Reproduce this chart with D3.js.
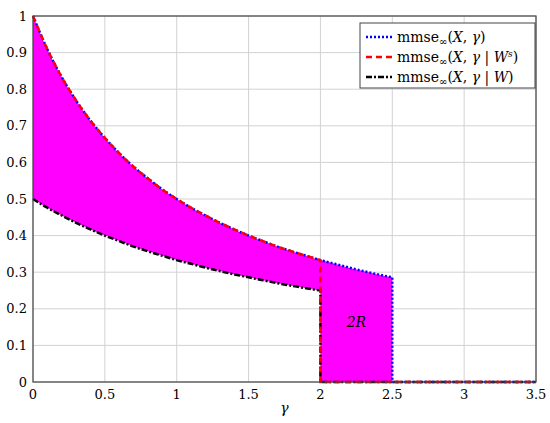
<!DOCTYPE html>
<html>
<head>
<meta charset="utf-8">
<script src="https://cdn.jsdelivr.net/npm/d3@7"></script>
<style>
  body { margin: 0; background: #fff; }
  svg { font-family: "DejaVu Serif", "Liberation Serif", serif; }
</style>
</head>
<body>
<svg id="chart"></svg>
<script>
// gamma sample grid, and values
const gammaGrid = [0, 0.1, 0.2, 0.3, 0.4, 0.5, 0.6, 0.7, 0.8, 0.9, 1.0, 1.1, 1.2,
    1.3, 1.4, 1.5, 1.6, 1.7, 1.8, 1.9, 2.0, 2.1, 2.2, 2.3, 2.4, 2.5];
const upperValues = [1.0, 0.909, 0.833, 0.769, 0.714, 0.667, 0.625, 0.588, 0.556, 0.526,
    0.5, 0.476, 0.455, 0.435, 0.417, 0.4, 0.385, 0.370, 0.357, 0.345,
    0.333, 0.323, 0.3125, 0.303, 0.294, 0.286];
const lowerValues = [0.5, 0.476, 0.455, 0.435, 0.417, 0.4, 0.385, 0.370, 0.357, 0.345,
    0.333, 0.323, 0.3125, 0.303, 0.294, 0.286, 0.278, 0.270, 0.263, 0.256, 0.25];

// where each series drops to zero
const dropBlue = 2.5;
const dropRed = 2.0;
const dropBlack = 2.0;
const gammaMax = 3.5;

const xTicks = [0, 0.5, 1, 1.5, 2, 2.5, 3, 3.5];
const yTicks = [0, 0.1, 0.2, 0.3, 0.4, 0.5, 0.6, 0.7, 0.8, 0.9, 1];

const width = 550;
const height = 423;
const margin = ({ top: 16, right: 14, bottom: 41, left: 33 });

const x = d3.scaleLinear()
    .domain([0, gammaMax])
    .range([margin.left, width - margin.right]);

const y = d3.scaleLinear()
    .domain([0, 1])
    .range([height - margin.bottom, margin.top]);

const svg = d3.select("#chart")
    .attr("width", width)
    .attr("height", height);

// points of a curve up to a cutoff
const curvePts = (vals, cut) => gammaGrid
    .map((g, i) => [g, vals[i]])
    .filter(d => d[1] !== undefined && d[0] <= cut + 1e-9);

const smooth = d3.line()
    .x(d => x(d[0]))
    .y(d => y(d[1]))
    .curve(d3.curveMonotoneX);

// curve then straight drop to zero and along the axis
function seriesPath(vals, cut) {
    const pts = curvePts(vals, cut);
    return smooth(pts) +
        `L${x(cut)},${y(0)}L${x(gammaMax)},${y(0)}`;
}

// grid
svg.append("g")
    .selectAll("line")
    .data(xTicks)
    .join("line")
    .attr("x1", d => x(d)).attr("x2", d => x(d))
    .attr("y1", y(0)).attr("y2", y(1))
    .attr("stroke", "#d2d2d2");

svg.append("g")
    .selectAll("line")
    .data(yTicks)
    .join("line")
    .attr("x1", x(0)).attr("x2", x(gammaMax))
    .attr("y1", d => y(d)).attr("y2", d => y(d))
    .attr("stroke", "#d2d2d2");

// filled region between upper and lower curves
const upPts = curvePts(upperValues, dropBlue);
const lowPts = curvePts(lowerValues, dropBlack);
const fillPath = smooth(upPts) +
    `L${x(dropBlue)},${y(0)}L${x(dropBlack)},${y(0)}` +
    smooth(lowPts.slice().reverse()).replace(/^M/, "L") + "Z";

svg.append("path")
    .attr("d", fillPath)
    .attr("fill", "#ff00ff")
    .attr("stroke", "none");

// series lines
svg.append("path")
    .attr("d", seriesPath(lowerValues, dropBlack))
    .attr("fill", "none")
    .attr("stroke", "#000")
    .attr("stroke-width", 2.5)
    .attr("stroke-dasharray", "6,2,2,2");

svg.append("path")
    .attr("d", seriesPath(upperValues, dropBlue))
    .attr("fill", "none")
    .attr("stroke", "#0000ff")
    .attr("stroke-width", 2.5)
    .attr("stroke-dasharray", "2,2");

svg.append("path")
    .attr("d", seriesPath(upperValues, dropRed))
    .attr("fill", "none")
    .attr("stroke", "#ff0000")
    .attr("stroke-width", 2.5)
    .attr("stroke-dasharray", "6,4");

// axis box
svg.append("rect")
    .attr("x", x(0)).attr("y", y(1))
    .attr("width", x(gammaMax) - x(0))
    .attr("height", y(0) - y(1))
    .attr("fill", "none")
    .attr("stroke", "#444")
    .attr("stroke-width", 1.2);

// tick labels
svg.append("g")
    .selectAll("text")
    .data(xTicks)
    .join("text")
    .attr("x", d => x(d))
    .attr("y", y(0) + 17)
    .attr("text-anchor", "middle")
    .attr("font-size", 13)
    .text(d => d);

svg.append("g")
    .selectAll("text")
    .data(yTicks)
    .join("text")
    .attr("x", x(0) - 6)
    .attr("y", d => y(d) + 4.5)
    .attr("text-anchor", "end")
    .attr("font-size", 13)
    .text(d => d);

// axis title
svg.append("text")
    .attr("x", x(1.75))
    .attr("y", 413)
    .attr("text-anchor", "middle")
    .attr("font-size", 14)
    .attr("font-style", "italic")
    .text("γ");

// 2R label
svg.append("text")
    .attr("x", x(2.25))
    .attr("y", y(0.15))
    .attr("text-anchor", "middle")
    .attr("font-size", 14)
    .attr("font-style", "italic")
    .text("2R");

// legend
const legendItems = [
    { color: "#0000ff", dash: "2,2", cond: null },
    { color: "#ff0000", dash: "6,4", cond: "Ws" },
    { color: "#000", dash: "6,2,2,2", cond: "W" }
];

const legend = svg.append("g");
legend.append("rect")
    .attr("x", 360).attr("y", 23)
    .attr("width", 175).attr("height", 65)
    .attr("fill", "#fff")
    .attr("stroke", "#444")
    .attr("stroke-width", 1);

legendItems.forEach((d, i) => {
    const cy = 37 + i * 20;
    legend.append("line")
        .attr("x1", 366).attr("x2", 392)
        .attr("y1", cy).attr("y2", cy)
        .attr("stroke", d.color)
        .attr("stroke-width", 2.5)
        .attr("stroke-dasharray", d.dash);
    const t = legend.append("text")
        .attr("x", 397).attr("y", cy + 4.5)
        .attr("font-size", 14);
    t.append("tspan").text("mmse");
    t.append("tspan").attr("font-size", 10).attr("dy", 3).text("∞");
    t.append("tspan").attr("dy", -3).text("(");
    t.append("tspan").attr("font-style", "italic").text("X");
    t.append("tspan").text(", ");
    t.append("tspan").attr("font-style", "italic").text("γ");
    if (d.cond) {
        t.append("tspan").text(" | ");
        t.append("tspan").attr("font-style", "italic").text("W");
        if (d.cond === "Ws") {
            t.append("tspan").attr("font-size", 9).attr("dy", -5)
                .attr("font-style", "italic").text("s");
            t.append("tspan").attr("dy", 5).text(")");
        } else {
            t.append("tspan").text(")");
        }
    } else {
        t.append("tspan").text(")");
    }
});
</script>
</body>
</html>
